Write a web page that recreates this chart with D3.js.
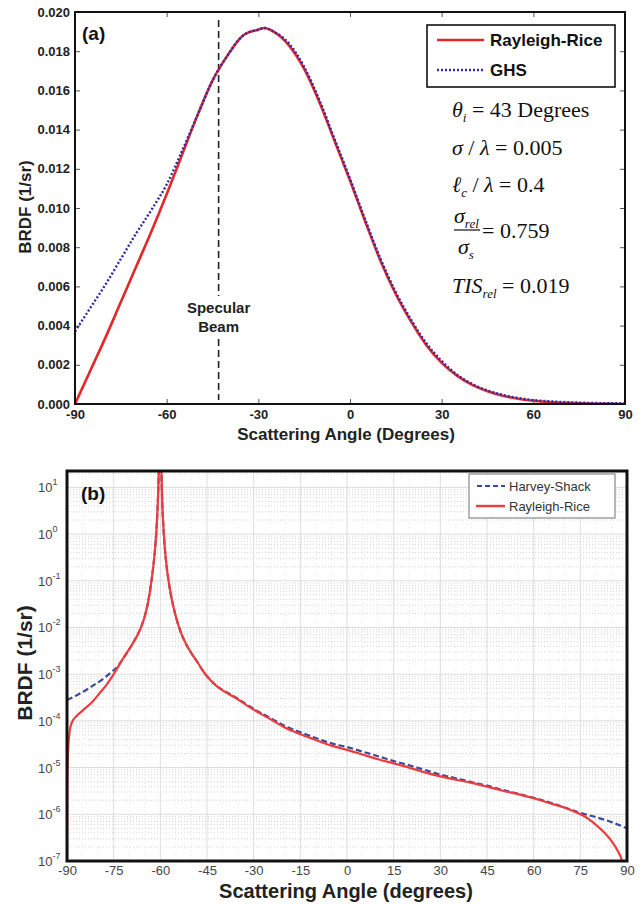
<!DOCTYPE html>
<html>
<head>
<meta charset="utf-8">
<script src="https://cdn.jsdelivr.net/npm/d3@7"></script>
<style>
  html, body { margin: 0; padding: 0; background: #fff; }
  svg { display: block; }
</style>
</head>
<body>
<svg id="chart" width="643" height="904"></svg>
<script>
// ---------------- Data: panel (a) ----------------
const anglesA = [-90,-85,-80,-75,-70,-65,-60,-55,-50,-45,-40,-35,-30,-28,-25,-20,-15,-10,-5,0,5,10,15,20,25,30,35,40,45,50,55,60,65,70,75,80,85,90];
const rayleighRiceA = [0,0.0017,0.0034,0.0052,0.0070,0.0088,0.0107,0.0127,0.0147,0.0165,0.0178,0.0188,0.0191,0.01918,0.0190,0.0183,0.0171,0.0154,0.0134,0.0114,0.0093,0.0073,0.0056,0.0042,0.0030,0.0021,0.00145,0.00098,0.00065,0.00042,0.00027,0.00017,0.0001,0.00006,0.00003,0.000015,0.000005,0];
const ghsA = [0.0037,0.0049,0.0061,0.0074,0.0087,0.0099,0.0112,0.0129,0.0147,0.0165,0.0178,0.0188,0.0191,0.01918,0.0190,0.0184,0.0172,0.0155,0.0135,0.0115,0.0094,0.0074,0.0057,0.0043,0.0031,0.0022,0.0015,0.00102,0.00069,0.00046,0.00031,0.0002,0.00014,0.0001,0.00007,0.00005,0.00004,0.00003];
const xTicksA = [-90,-60,-30,0,30,60,90];
const yTicksA = [0,0.002,0.004,0.006,0.008,0.010,0.012,0.014,0.016,0.018,0.020];
const specularAngle = -43;

// ---------------- Data: panel (b) ----------------
const anglesRR = [-90,-89.9,-89.6,-89.2,-88.5,-87,-85,-82,-79.4,-77,-75,-73,-71,-69,-67,-66,-65,-64,-63,-62,-61.5,-61,-60.6,-60.3,-60,-59.7,-59.5,-59,-58.5,-58,-57.4,-56,-55,-53.7,-52,-50,-48,-46,-44,-42,-40,-36,-32,-28,-24,-20,-15,-10,-5,0,5,10,15,20,25,30,35,40,45,50,55,60,65,70,73,76,79,81,83,85,87,88.3,89,90];
const rayleighRiceB = [1e-8,5.0e-6,2.5e-5,5.6e-5,9.1e-5,1.26e-4,1.66e-4,2.5e-4,4.0e-4,6.3e-4,1.0e-3,1.66e-3,2.75e-3,4.4e-3,7.6e-3,1.1e-2,1.74e-2,3.3e-2,8.5e-2,0.295,0.69,2.45,12.6,100,1000,34,8.5,1.38,0.457,0.209,0.105,0.0316,0.017,8.9e-3,4.8e-3,2.8e-3,1.78e-3,1.1e-3,7.6e-4,5.6e-4,4.5e-4,3.16e-4,2.1e-4,1.45e-4,1.03e-4,7.2e-5,5.2e-5,3.9e-5,2.95e-5,2.4e-5,1.9e-5,1.51e-5,1.23e-5,1.0e-5,7.9e-6,6.5e-6,5.5e-6,4.7e-6,3.9e-6,3.2e-6,2.7e-6,2.2e-6,1.74e-6,1.38e-6,1.15e-6,9.3e-7,6.8e-7,5.2e-7,3.9e-7,2.7e-7,1.66e-7,1.05e-7,6.3e-8,1e-8];
const anglesHS = [-90,-86,-82,-78,-76,-74,-72,-70,-68,-66,-65,-64,-63,-62,-61.5,-61,-60.6,-60.3,-60,-59.7,-59.5,-59,-58.5,-58,-57.4,-56,-55,-53.7,-52,-50,-48,-46,-44,-42,-40,-36,-32,-28,-24,-20,-15,-10,-5,0,5,10,15,20,25,30,35,40,45,50,55,60,65,70,75,80,85,90];
const harveyShackB = [2.8e-4,3.8e-4,5.5e-4,8.3e-4,1.07e-3,1.4e-3,2.15e-3,3.4e-3,5.8e-3,1.1e-2,1.74e-2,3.3e-2,8.5e-2,0.295,0.69,2.45,12.6,100,1000,34,8.5,1.38,0.457,0.209,0.105,0.0316,0.017,8.9e-3,4.8e-3,2.8e-3,1.78e-3,1.1e-3,7.6e-4,5.7e-4,4.6e-4,3.25e-4,2.2e-4,1.52e-4,1.09e-4,7.8e-5,5.7e-5,4.3e-5,3.3e-5,2.75e-5,2.2e-5,1.75e-5,1.38e-5,1.12e-5,8.9e-6,7.1e-6,5.9e-6,4.9e-6,4.1e-6,3.35e-6,2.75e-6,2.25e-6,1.8e-6,1.4e-6,1.07e-6,8.7e-7,6.8e-7,5.0e-7];
const xTicksB = [-90,-75,-60,-45,-30,-15,0,15,30,45,60,75,90];
const yExpB = [-7,-6,-5,-4,-3,-2,-1,0,1];

const svg = d3.select("#chart");
const defs = svg.append("defs");
const sans = "Arial, 'Liberation Sans', sans-serif";

// ================= Panel (a) =================
const A = {l: 75, r: 625, t: 12, b: 404};
const xA = d3.scaleLinear().domain([-90, 90]).range([A.l, A.r]);
const yA = d3.scaleLinear().domain([0, 0.02]).range([A.b, A.t]);
defs.append("clipPath").attr("id", "clipA").append("rect")
  .attr("x", A.l).attr("y", A.t).attr("width", A.r - A.l).attr("height", A.b - A.t);

const gA = svg.append("g");
gA.append("g").attr("transform", `translate(0,${A.b})`)
  .call(d3.axisBottom(xA).tickValues(xTicksA).tickSize(-5).tickFormat(d => d).tickPadding(6))
  .call(g => g.select(".domain").remove())
  .call(g => g.selectAll("line").attr("stroke", "#555"))
  .call(g => g.selectAll("text").attr("font-family", sans)
      .attr("font-size", 13).attr("font-weight", "bold").attr("fill", "#222"));
gA.append("g").attr("transform", `translate(0,${A.t})`)
  .call(d3.axisTop(xA).tickValues(xTicksA).tickSize(-5).tickFormat(""))
  .call(g => g.select(".domain").remove())
  .call(g => g.selectAll("line").attr("stroke", "#555"));
gA.append("g").attr("transform", `translate(${A.l},0)`)
  .call(d3.axisLeft(yA).tickValues(yTicksA).tickSize(-5).tickFormat(d3.format(".3f")).tickPadding(5))
  .call(g => g.select(".domain").remove())
  .call(g => g.selectAll("line").attr("stroke", "#555"))
  .call(g => g.selectAll("text").attr("font-family", sans)
      .attr("font-size", 13).attr("font-weight", "bold").attr("fill", "#222"));
gA.append("g").attr("transform", `translate(${A.r},0)`)
  .call(d3.axisRight(yA).tickValues(yTicksA).tickSize(-5).tickFormat(""))
  .call(g => g.select(".domain").remove())
  .call(g => g.selectAll("line").attr("stroke", "#555"));

// specular beam dashed line
gA.append("line")
  .attr("x1", xA(specularAngle)).attr("x2", xA(specularAngle))
  .attr("y1", A.t + 8).attr("y2", A.b - 4)
  .attr("stroke", "#222").attr("stroke-width", 1.6).attr("stroke-dasharray", "7,4");
gA.append("rect").attr("x", xA(specularAngle) - 36).attr("y", 296).attr("width", 72).attr("height", 42).attr("fill", "#fff");
const spec = gA.append("text").attr("text-anchor", "middle")
  .attr("font-family", sans).attr("font-weight", "bold")
  .attr("font-size", 15).attr("fill", "#222");
spec.append("tspan").attr("x", xA(specularAngle)).attr("y", 313).text("Specular");
spec.append("tspan").attr("x", xA(specularAngle)).attr("y", 332).text("Beam");

const lineA = d3.line().x((d, i) => xA(anglesA[i])).y(d => yA(d)).curve(d3.curveMonotoneX);
const plotA = gA.append("g").attr("clip-path", "url(#clipA)");
plotA.append("path").datum(rayleighRiceA).attr("d", lineA)
  .attr("fill", "none").attr("stroke", "#e3282a").attr("stroke-width", 2.6);
plotA.append("path").datum(ghsA).attr("d", lineA)
  .attr("fill", "none").attr("stroke", "#2c2ca8").attr("stroke-width", 2.4).attr("stroke-dasharray", "2,2");

// frame
gA.append("rect").attr("x", A.l).attr("y", A.t).attr("width", A.r - A.l).attr("height", A.b - A.t)
  .attr("fill", "none").attr("stroke", "#111").attr("stroke-width", 2);

gA.append("text").attr("x", 82).attr("y", 40).attr("font-family", sans)
  .attr("font-weight", "bold").attr("font-size", 19).attr("fill", "#111").text("(a)");

// legend (a)
const legA = gA.append("g");
legA.append("rect").attr("x", 427).attr("y", 25).attr("width", 188).attr("height", 62)
  .attr("fill", "#fff").attr("stroke", "#111").attr("stroke-width", 1.6);
legA.append("line").attr("x1", 437).attr("x2", 484).attr("y1", 40).attr("y2", 40)
  .attr("stroke", "#e3282a").attr("stroke-width", 2.6);
legA.append("line").attr("x1", 437).attr("x2", 484).attr("y1", 70).attr("y2", 70)
  .attr("stroke", "#2c2ca8").attr("stroke-width", 2.4).attr("stroke-dasharray", "2,2");
legA.append("text").attr("x", 490).attr("y", 46).attr("font-family", sans)
  .attr("font-weight", "bold").attr("font-size", 17).attr("fill", "#111").text("Rayleigh-Rice");
legA.append("text").attr("x", 490).attr("y", 76).attr("font-family", sans)
  .attr("font-weight", "bold").attr("font-size", 17).attr("fill", "#111").text("GHS");

// annotation equations
const serif = "'Times New Roman', 'Liberation Serif', serif";
const ann = gA.append("g").attr("font-family", serif).attr("font-size", 22).attr("fill", "#111");
function eq(y, parts, x = 452) {
  const t = ann.append("text").attr("x", x).attr("y", y);
  parts.forEach(p => {
    const s = t.append("tspan").text(p.t);
    if (p.i) s.attr("font-style", "italic");
    if (p.sub) s.attr("font-size", 13).attr("dy", 5);
    if (p.up) s.attr("dy", -5);
  });
  return t;
}
eq(117, [{t: "θ", i: 1}, {t: "i", i: 1, sub: 1}, {t: " = 43 Degrees", up: 1}]);
eq(155, [{t: "σ", i: 1}, {t: " / "}, {t: "λ", i: 1}, {t: " = 0.005"}]);
eq(192, [{t: "ℓ", i: 1}, {t: "c", i: 1, sub: 1}, {t: " / ", up: 1}, {t: "λ", i: 1}, {t: " = 0.4"}]);
eq(223, [{t: "σ", i: 1}, {t: "rel", i: 1, sub: 1}], 454);
ann.append("line").attr("x1", 454).attr("x2", 480).attr("y1", 230).attr("y2", 230).attr("stroke", "#111").attr("stroke-width", 1.2);
eq(254, [{t: "σ", i: 1}, {t: "s", i: 1, sub: 1}], 458);
eq(238, [{t: "= 0.759"}], 482);
eq(293, [{t: "TIS", i: 1}, {t: "rel", i: 1, sub: 1}, {t: " = 0.019", up: 1}]);

// axis titles (a)
gA.append("text").attr("x", 346).attr("y", 440).attr("text-anchor", "middle")
  .attr("font-family", sans).attr("font-weight", "bold")
  .attr("font-size", 17).attr("fill", "#222").text("Scattering Angle (Degrees)");
gA.append("text").attr("transform", "translate(31,207) rotate(-90)").attr("text-anchor", "middle")
  .attr("font-family", sans).attr("font-weight", "bold")
  .attr("font-size", 17).attr("fill", "#222").text("BRDF (1/sr)");

// ================= Panel (b) =================
const B = {l: 67, r: 627, t: 471, b: 861};
const xB = d3.scaleLinear().domain([-90, 90]).range([B.l, B.r]);
const yB = d3.scaleLog().domain([1e-7, 22.4]).range([B.b, B.t]);
defs.append("clipPath").attr("id", "clipB").append("rect")
  .attr("x", B.l).attr("y", B.t).attr("width", B.r - B.l).attr("height", B.b - B.t);

const gB = svg.append("g");
const grid = gB.append("g").attr("clip-path", "url(#clipB)");
const minorY = [];
yExpB.forEach(e => { for (let k = 2; k <= 9; k++) minorY.push(k * Math.pow(10, e)); });
grid.selectAll("line.minY").data(minorY.filter(v => v < 22.4)).join("line")
  .attr("x1", B.l).attr("x2", B.r).attr("y1", d => yB(d)).attr("y2", d => yB(d))
  .attr("stroke", "#d4d4d4").attr("stroke-width", 1).attr("stroke-dasharray", "1,2");
const minorX = d3.range(-90, 91, 5).filter(v => v % 15 !== 0);
grid.selectAll("line.minX").data(minorX).join("line")
  .attr("x1", d => xB(d)).attr("x2", d => xB(d)).attr("y1", B.t).attr("y2", B.b)
  .attr("stroke", "#e6e6e6").attr("stroke-width", 1).attr("stroke-dasharray", "1,3");
grid.selectAll("line.majY").data(yExpB.map(e => Math.pow(10, e))).join("line")
  .attr("x1", B.l).attr("x2", B.r).attr("y1", d => yB(d)).attr("y2", d => yB(d))
  .attr("stroke", "#dcdcdc").attr("stroke-width", 1);
grid.selectAll("line.majX").data(xTicksB).join("line")
  .attr("x1", d => xB(d)).attr("x2", d => xB(d)).attr("y1", B.t).attr("y2", B.b)
  .attr("stroke", "#dcdcdc").attr("stroke-width", 1);

gB.append("g").attr("transform", `translate(0,${B.b})`)
  .call(d3.axisBottom(xB).tickValues(xTicksB).tickSize(0).tickFormat(d => d).tickPadding(5))
  .call(g => g.select(".domain").remove())
  .call(g => g.selectAll("text").attr("font-family", sans)
      .attr("font-size", 13).attr("fill", "#444"));
const yl = gB.append("g").attr("font-family", sans).attr("fill", "#444");
yExpB.forEach(e => {
  const t = yl.append("text").attr("x", 38).attr("y", yB(Math.pow(10, e)) + 5).attr("font-size", 13);
  t.append("tspan").text("10");
  t.append("tspan").attr("font-size", 9).attr("dy", -7).text(e);
});

const lineRR = d3.line().x((d, i) => xB(anglesRR[i])).y(d => yB(d)).curve(d3.curveMonotoneX);
const lineHS = d3.line().x((d, i) => xB(anglesHS[i])).y(d => yB(d)).curve(d3.curveMonotoneX);
const plotB = gB.append("g").attr("clip-path", "url(#clipB)");
plotB.append("path").datum(harveyShackB).attr("d", lineHS)
  .attr("fill", "none").attr("stroke", "#3a4a9e").attr("stroke-width", 2.2).attr("stroke-dasharray", "6,3");
plotB.append("path").datum(rayleighRiceB).attr("d", lineRR)
  .attr("fill", "none").attr("stroke", "#ee3b3b").attr("stroke-width", 2.2);

gB.append("rect").attr("x", B.l).attr("y", B.t).attr("width", B.r - B.l).attr("height", B.b - B.t)
  .attr("fill", "none").attr("stroke", "#111").attr("stroke-width", 3);

gB.append("text").attr("x", 81).attr("y", 500).attr("font-family", sans)
  .attr("font-weight", "bold").attr("font-size", 19).attr("fill", "#111").text("(b)");

// legend (b)
const legB = gB.append("g");
legB.append("rect").attr("x", 469).attr("y", 474).attr("width", 146).attr("height", 44)
  .attr("fill", "#fff").attr("stroke", "#888").attr("stroke-width", 1.2);
legB.append("line").attr("x1", 477).attr("x2", 505).attr("y1", 486).attr("y2", 486)
  .attr("stroke", "#3a4a9e").attr("stroke-width", 2).attr("stroke-dasharray", "5,3");
legB.append("line").attr("x1", 476).attr("x2", 505).attr("y1", 506).attr("y2", 506)
  .attr("stroke", "#ee3b3b").attr("stroke-width", 2.4);
legB.append("text").attr("x", 509).attr("y", 491).attr("font-family", sans)
  .attr("font-size", 13).attr("fill", "#333").text("Harvey-Shack");
legB.append("text").attr("x", 509).attr("y", 511).attr("font-family", sans)
  .attr("font-size", 13).attr("fill", "#333").text("Rayleigh-Rice");

gB.append("text").attr("x", 346).attr("y", 898).attr("text-anchor", "middle")
  .attr("font-family", sans).attr("font-weight", "bold")
  .attr("font-size", 20).attr("fill", "#222").text("Scattering Angle (degrees)");
gB.append("text").attr("transform", "translate(32,663) rotate(-90)").attr("text-anchor", "middle")
  .attr("font-family", sans).attr("font-weight", "bold")
  .attr("font-size", 21).attr("fill", "#222").text("BRDF (1/sr)");
</script>
</body>
</html>
